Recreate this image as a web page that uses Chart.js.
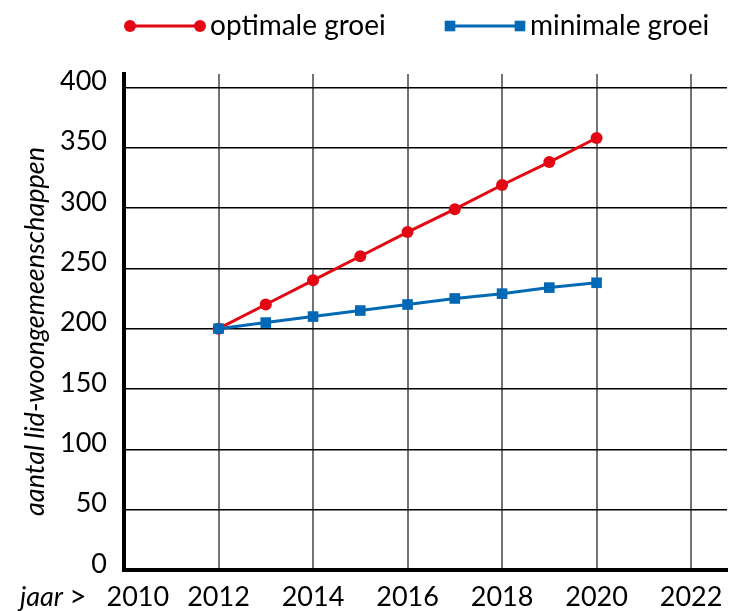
<!DOCTYPE html>
<html>
<head>
<meta charset="utf-8">
<script src="https://cdn.jsdelivr.net/npm/chart.js@4.4.1/dist/chart.umd.min.js"></script>
<style>
  html, body { margin: 0; padding: 0; background: #fff; }
</style>
</head>
<body>
<canvas id="chart" width="745" height="611"></canvas>
<script>
// data
const years = [2012, 2013, 2014, 2015, 2016, 2017, 2018, 2019, 2020];
const optimaleGroei = [200, 220, 240, 260, 280, 299, 319, 338, 358];
const minimaleGroei = [200, 205, 210, 215, 220, 225, 229, 234, 238];
const xTicks = [2010, 2012, 2014, 2016, 2018, 2020, 2022];
const yTicks = [0, 50, 100, 150, 200, 250, 300, 350, 400];
const seriesNames = ['optimale groei', 'minimale groei'];
const yTitle = 'aantal lid-woongemeenschappen';
const xPrefix = 'jaar';

const FONT = 'Lato, "DejaVu Sans", sans-serif';
const RED = '#e30613';
const BLUE = '#0068b4';

const toPoints = vals => vals.map((v, i) => ({ x: years[i], y: v }));

// legend with a marker at both ends of the line, plus the "jaar >" label
const extrasPlugin = {
    id: 'extras',
    afterDraw(chart) {
        const ctx = chart.ctx;
        const starts = [130, 450];
        const ly = 26;
        ctx.save();
        chart.data.datasets.forEach((ds, i) => {
            const x0 = starts[i], x1 = x0 + 70;
            ctx.strokeStyle = ds.borderColor;
            ctx.lineWidth = 3;
            ctx.beginPath();
            ctx.moveTo(x0, ly);
            ctx.lineTo(x1, ly);
            ctx.stroke();
            const opts = { pointStyle: ds.pointStyle, radius: ds.pointRadius, borderWidth: 0 };
            ctx.fillStyle = ds.backgroundColor;
            Chart.helpers.drawPoint(ctx, opts, x0, ly);
            Chart.helpers.drawPoint(ctx, opts, x1, ly);
            ctx.fillStyle = '#000';
            ctx.font = '28px ' + FONT;
            ctx.textBaseline = 'middle';
            ctx.textAlign = 'left';
            ctx.fillText(ds.label, x1 + 10, ly);
        });

        // "jaar >" in front of the first year
        const ty = 597;
        ctx.fillStyle = '#000';
        ctx.textBaseline = 'middle';
        ctx.font = 'italic 27px ' + FONT;
        ctx.fillText(xPrefix, 20, ty);
        const w = ctx.measureText(xPrefix + ' ').width;
        ctx.font = '30px ' + FONT;
        ctx.fillText('>', 20 + w, ty);
        ctx.restore();
    }
};

new Chart(document.getElementById('chart'), {
    type: 'line',
    data: {
        datasets: [
            {
                label: seriesNames[0],
                data: toPoints(optimaleGroei),
                borderColor: RED,
                backgroundColor: RED,
                borderWidth: 3,
                pointStyle: 'circle',
                pointRadius: 6,
                pointBorderWidth: 0,
                order: 1
            },
            {
                label: seriesNames[1],
                data: toPoints(minimaleGroei),
                borderColor: BLUE,
                backgroundColor: BLUE,
                borderWidth: 3,
                pointStyle: 'rect',
                pointRadius: 7.5,
                pointBorderWidth: 0,
                order: 0
            }
        ]
    },
    options: {
        responsive: false,
        animation: false,
        layout: { padding: { top: 74, right: 18, left: 0, bottom: 0 } },
        plugins: {
            legend: { display: false },
            tooltip: { enabled: false }
        },
        scales: {
            x: {
                type: 'linear',
                min: 2010,
                max: 2022.76,
                afterBuildTicks: s => { s.ticks = xTicks.map(v => ({ value: v })); },
                afterFit: s => { s.height = 41; },
                grid: { color: 'rgba(0,0,0,0.55)', lineWidth: 2, drawTicks: false },
                border: { color: '#000', width: 4 },
                ticks: {
                    color: '#000',
                    font: { family: FONT, size: 27 },
                    padding: 11,
                    maxRotation: 0,
                    callback: v => v === 2010 ? '    ' + v : String(v)
                }
            },
            y: {
                min: 0,
                max: 411,
                afterBuildTicks: s => { s.ticks = yTicks.map(v => ({ value: v })); },
                afterFit: s => { s.width = 124; },
                grid: { color: '#000', lineWidth: 1.5, drawTicks: false },
                border: { color: '#000', width: 4 },
                ticks: {
                    color: '#000',
                    font: { family: FONT, size: 27 },
                    padding: 17,
                    labelOffset: -6
                },
                title: {
                    display: true,
                    // trailing spaces nudge the rotated title a little lower
                    text: yTitle + '   ',
                    color: '#000',
                    font: { family: FONT, size: 27, style: 'italic' },
                    padding: { top: 19, bottom: 0 }
                }
            }
        }
    },
    plugins: [extrasPlugin]
});
</script>
</body>
</html>
